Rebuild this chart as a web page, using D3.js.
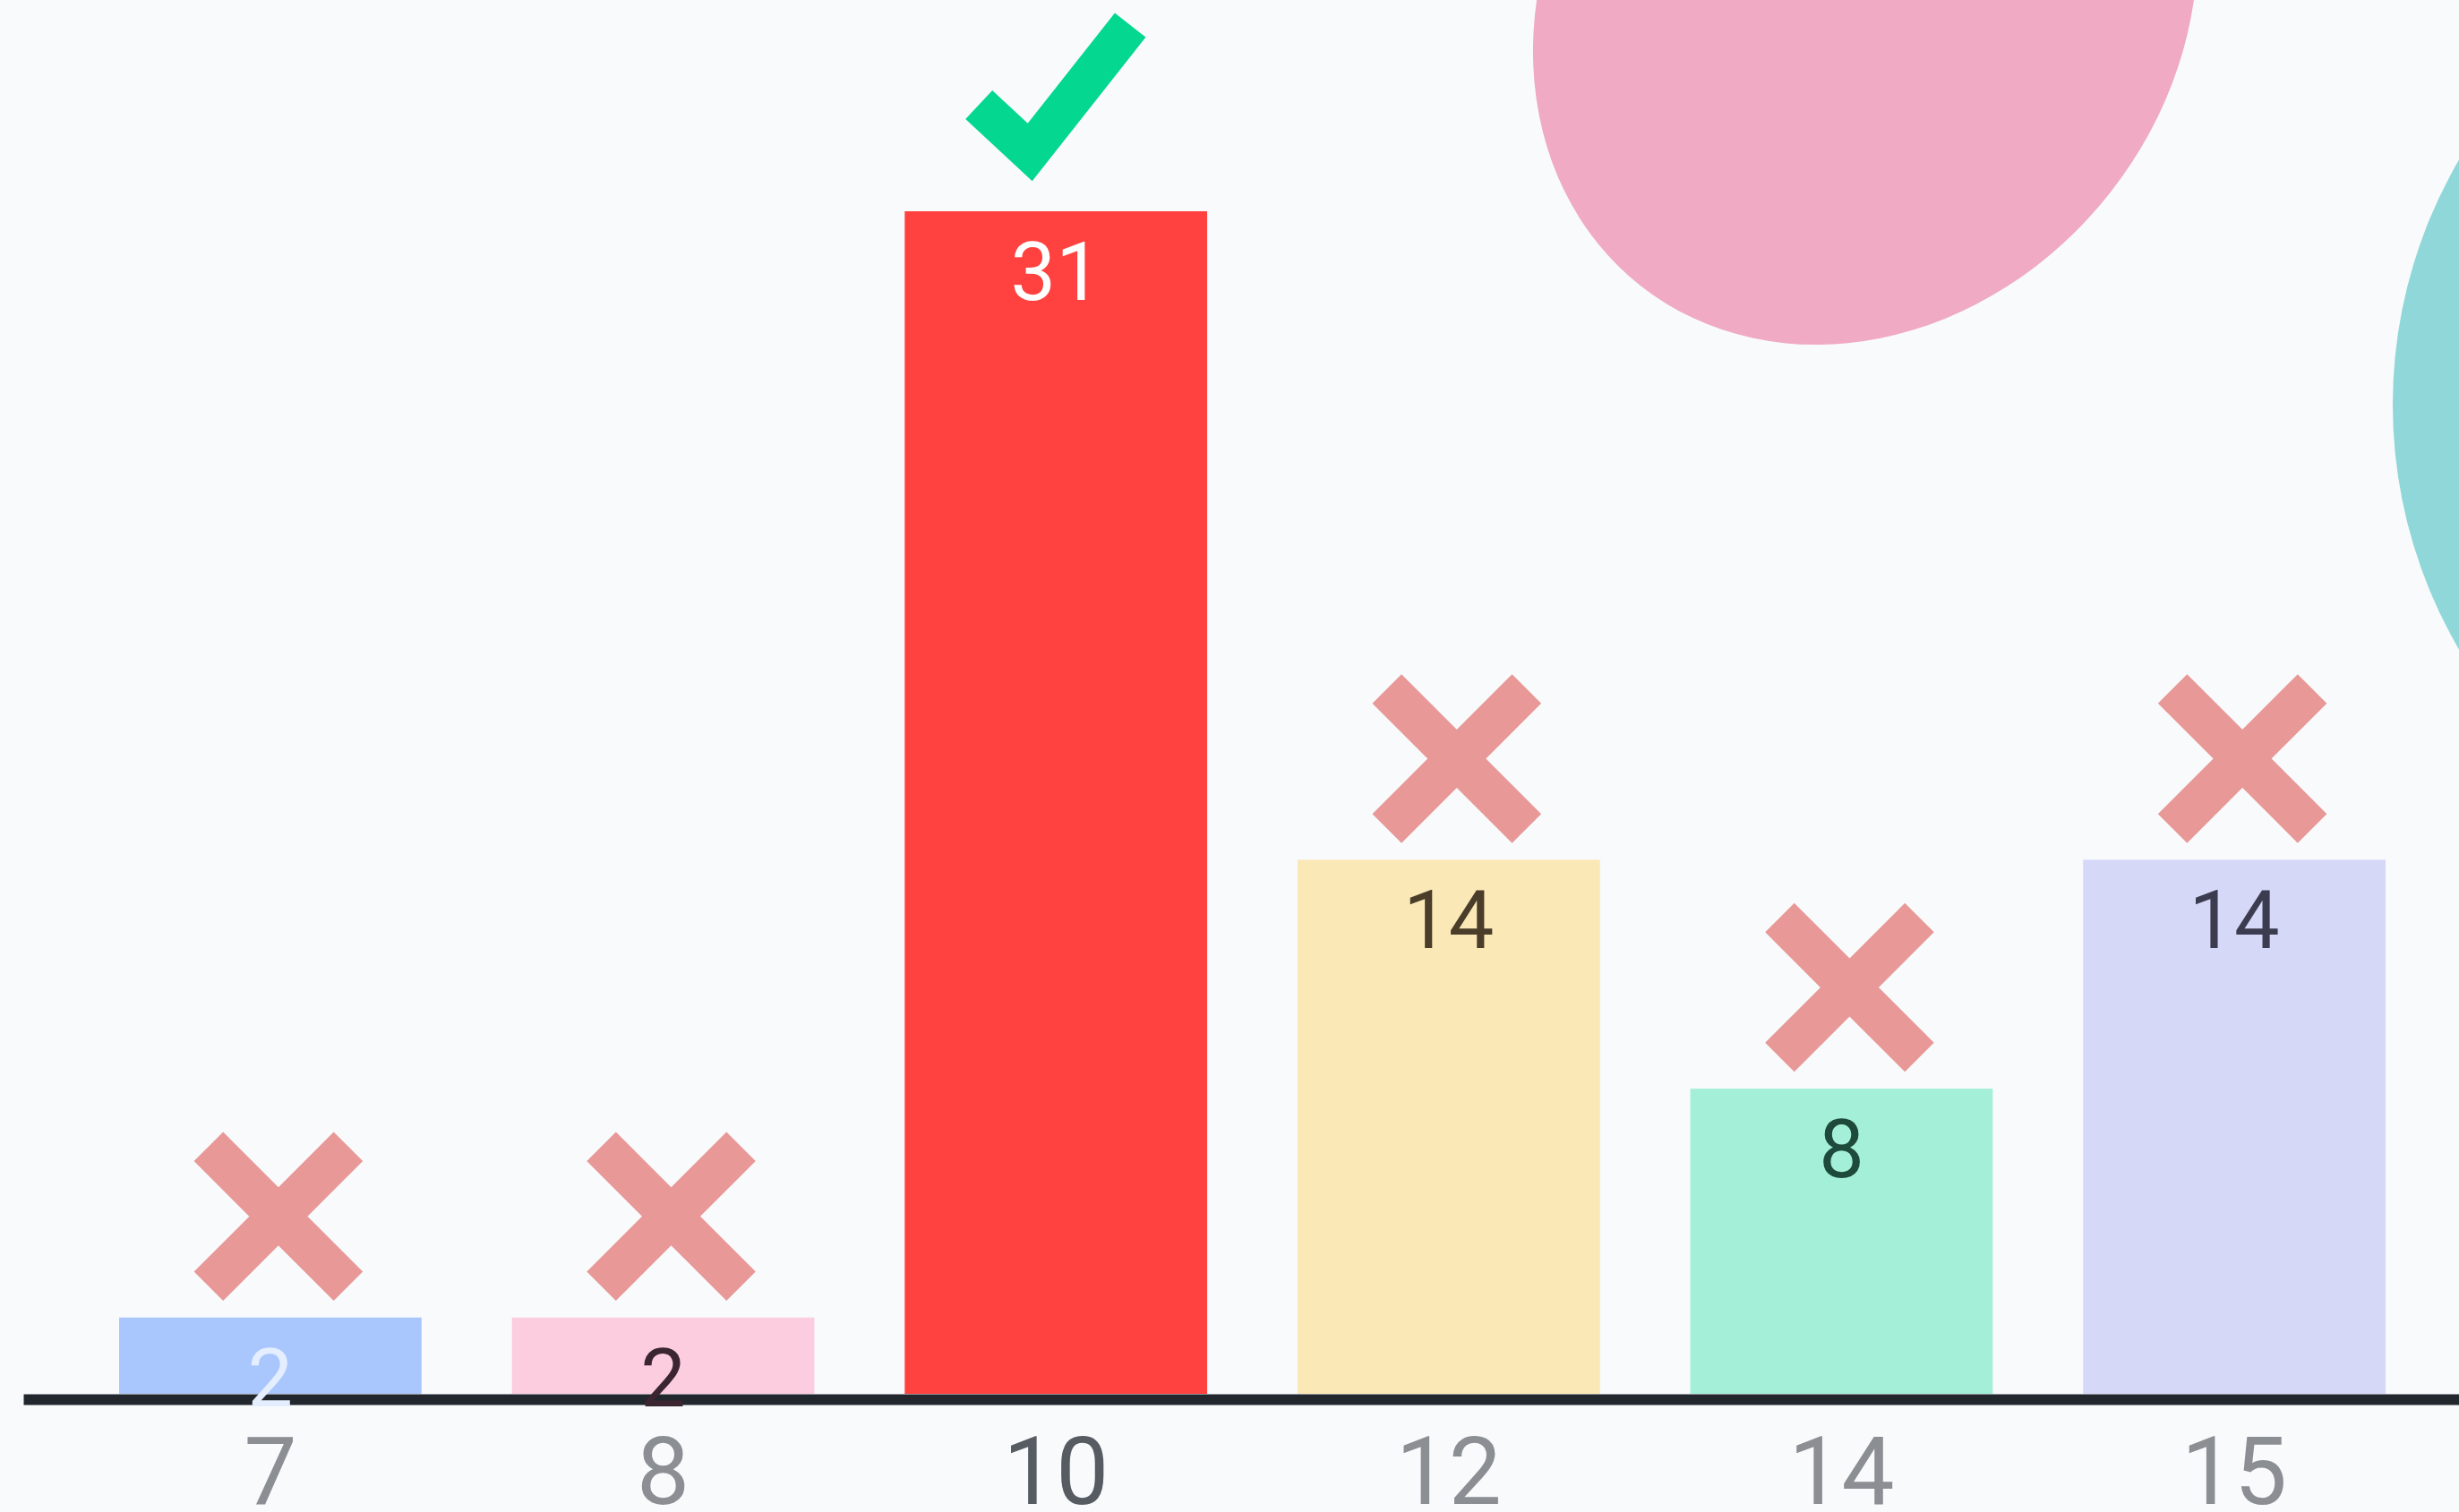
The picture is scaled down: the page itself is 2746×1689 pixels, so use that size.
<!DOCTYPE html>
<html>
<head>
<meta charset="utf-8">
<script src="https://cdn.jsdelivr.net/npm/d3@7"></script>
<style>
  html, body { margin: 0; padding: 0; background: #f8fafc; overflow: hidden; }
  .chart svg { display: block; }
  text { font-family: Roboto, "Open Sans", Lato, sans-serif; }
</style>
</head>
<body>
<div class="chart"></div>
<script>
// data
const categories = ['7', '8', '10', '12', '14', '15'];
const counts = [2, 2, 31, 14, 8, 14];
const answer = '10';
const barColors = ['#a9c7fc', '#fbcddf', '#ff423f', '#fbe8b7', '#a3efd7', '#d6d8f8'];
const labelColors = ['#e4eeff', '#3a2530', '#ffffff', '#4a3e2b', '#1e4a3b', '#3c3c50'];

const W = 2746;
const H = 1689;
const FONT = 'Roboto, "Open Sans", Lato, sans-serif';

const svg = d3.select('.chart').append('svg')
  .attr('width', W)
  .attr('height', H);

svg.append('rect')
  .attr('width', W)
  .attr('height', H)
  .attr('fill', '#f8fafc');

// decorative blobs in the background
svg.append('ellipse')
  .attr('transform', 'translate(2083, 0) rotate(38)')
  .attr('rx', 348)
  .attr('ry', 406)
  .attr('fill', '#f0aac3');

svg.append('circle')
  .attr('cx', 3214)
  .attr('cy', 452)
  .attr('r', 542)
  .attr('fill', '#8fd7d8');

const x = d3.scaleBand()
  .domain(categories)
  .range([26, 2771])
  .paddingInner(0.23)
  .paddingOuter(0.244);

const y = d3.scaleLinear()
  .domain([0, d3.max(counts)])
  .range([1557, 236]);

const rows = categories.map((c, i) => ({ cat: c, value: counts[i], color: barColors[i], label: labelColors[i] }));

svg.selectAll('.bar')
  .data(rows)
  .enter().append('rect')
  .attr('class', 'bar')
  .attr('x', d => x(d.cat))
  .attr('y', d => y(d.value))
  .attr('width', x.bandwidth())
  .attr('height', d => y(0) - y(d.value))
  .attr('fill', d => d.color);

// axis
const axis = svg.append('g')
  .attr('class', 'axis axis--x')
  .attr('transform', 'translate(0, ' + (y(0) + 6) + ')')
  .call(d3.axisBottom(x).tickSizeInner(0).tickSizeOuter(0).tickPadding(42));

axis.select('.domain')
  .attr('stroke', '#22272e')
  .attr('stroke-width', 12);

axis.selectAll('.tick text')
  .attr('font-family', FONT)
  .attr('font-size', 105)
  .attr('fill', d => d === answer ? '#575b62' : '#8b8e93');

// value labels inside bars
svg.selectAll('.value')
  .data(rows)
  .enter().append('text')
  .attr('class', 'value')
  .attr('x', d => x(d.cat) + x.bandwidth() / 2)
  .attr('y', d => y(d.value) + 99)
  .attr('text-anchor', 'middle')
  .attr('font-family', FONT)
  .attr('font-size', 90)
  .attr('fill', d => d.label)
  .text(d => d.value);

// right / wrong marks above bars
const marks = svg.selectAll('.mark')
  .data(rows)
  .enter().append('g')
  .attr('class', 'mark')
  .attr('transform', d => 'translate(' + (x(d.cat) + x.bandwidth() / 2) + ', ' + y(d.value) + ')');

marks.filter(d => d.cat !== answer)
  .append('path')
  .attr('d', 'M-69,-191L87,-35M87,-191L-69,-35')
  .attr('fill', 'none')
  .attr('stroke', '#e89896')
  .attr('stroke-width', 46)
  .attr('stroke-linecap', 'butt');

marks.filter(d => d.cat === answer)
  .append('path')
  .attr('d', 'M-86,-119L-29,-66L83,-208')
  .attr('fill', 'none')
  .attr('stroke', '#04d78f')
  .attr('stroke-width', 44)
  .attr('stroke-linejoin', 'miter')
  .attr('stroke-linecap', 'butt');
</script>
</body>
</html>
